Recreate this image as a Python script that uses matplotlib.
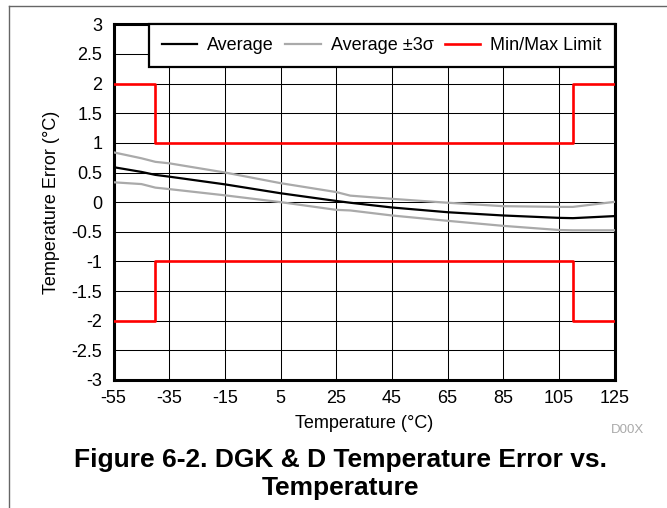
"""
Temperature error vs. temperature (DGK & D) with min/max limits.
Saves out.png at 667x508.
"""

import matplotlib
matplotlib.use("Agg")
import matplotlib.pyplot as plt
from matplotlib.lines import Line2D

plt.rcParams['font.family'] = ['Liberation Sans', 'DejaVu Sans']
plt.rcParams['axes.unicode_minus'] = False

# measured curves
temp_c = [-55, -45, -40, -35, -15, 5, 25, 30, 45, 65, 85, 105, 110, 125]
avg_err = [0.59, 0.51, 0.46, 0.43, 0.30, 0.15, 0.02, -0.01, -0.09, -0.17, -0.225, -0.265, -0.27, -0.235]
avg_plus_3s = [0.84, 0.74, 0.68, 0.655, 0.50, 0.32, 0.17, 0.11, 0.056, -0.01, -0.068, -0.08, -0.08, 0.005]
avg_minus_3s = [0.335, 0.305, 0.245, 0.22, 0.115, 0.0, -0.13, -0.14, -0.225, -0.315, -0.40, -0.47, -0.475, -0.475]

# spec limits (step)
limit_temp = [-55, -40, -40, 110, 110, 125]
limit_max = [2, 2, 1, 1, 2, 2]
limit_min = [-2, -2, -1, -1, -2, -2]

x_ticks = list(range(-55, 126, 20))
y_ticks = [-3, -2.5, -2, -1.5, -1, -0.5, 0, 0.5, 1, 1.5, 2, 2.5, 3]
y_labels = ['-3', '-2.5', '-2', '-1.5', '-1', '-0.5', '0', '0.5', '1', '1.5', '2', '2.5', '3']

W, H = 667, 508
AX_L, AX_R, AX_T, AX_B = 113.6, 614.7, 24.3, 380
fig = plt.figure(figsize=(W / 100, H / 100), dpi=100)
ax = fig.add_axes([AX_L / W, 1 - AX_B / H, (AX_R - AX_L) / W, (AX_B - AX_T) / H])

ax.plot(temp_c, avg_err, color='black', lw=1.6, label='Average', zorder=4)
ax.plot(temp_c, avg_plus_3s, color='#aaaaaa', lw=1.6, label='Average \u00b13\u03c3', zorder=3)
ax.plot(temp_c, avg_minus_3s, color='#aaaaaa', lw=1.6, zorder=3)
ax.plot(limit_temp, limit_max, color='#ff0000', lw=1.9, label='Min/Max Limit', zorder=5)
ax.plot(limit_temp, limit_min, color='#ff0000', lw=1.9, zorder=5)

ax.set_xlim(-55, 125)
ax.set_ylim(-3, 3)
ax.set_xticks(x_ticks)
ax.set_yticks(y_ticks)
ax.set_yticklabels(y_labels)
ax.tick_params(length=0, labelsize=13)
ax.tick_params(axis='y', pad=8)
ax.tick_params(axis='x', pad=7)
ax.grid(True, color='black', lw=0.75)
ax.set_axisbelow(True)
for s in ax.spines.values():
    s.set_linewidth(2.2)

ax.set_xlabel('Temperature (\u00b0C)', fontsize=13)
ax.set_ylabel('Temperature Error (\u00b0C)', fontsize=13)
ax.xaxis.set_label_coords(0.5, (AX_B - 415) / (AX_B - AX_T))
ax.yaxis.set_label_coords((60 - AX_L) / (AX_R - AX_L), 0.5)

leg = ax.legend(loc='upper right', ncol=3, fontsize=13, frameon=True, fancybox=False,
                borderaxespad=0, handlelength=1.95, columnspacing=0.65, handletextpad=0.55,
                borderpad=0.72)
leg.get_frame().set_edgecolor('black')
leg.get_frame().set_linewidth(1.6)
leg.get_frame().set_alpha(1)

fig.text(627 / W, 1 - 430 / H, 'D00X', color='#aaaaaa', fontsize=9.5, ha='center', va='center')
fig.text(340.5 / W, 1 - 474 / H, 'Figure 6-2. DGK & D Temperature Error vs.\nTemperature',
         fontsize=19, fontweight='bold', ha='center', va='center', linespacing=1.22)

# page border (top and left only)
fig.add_artist(Line2D([9 / W, 1], [1 - 6 / H, 1 - 6 / H], color='#666666', lw=1))
fig.add_artist(Line2D([9 / W, 9 / W], [0, 1 - 6 / H], color='#666666', lw=1))

fig.savefig('out.png', dpi=100)
plt.close(fig)
